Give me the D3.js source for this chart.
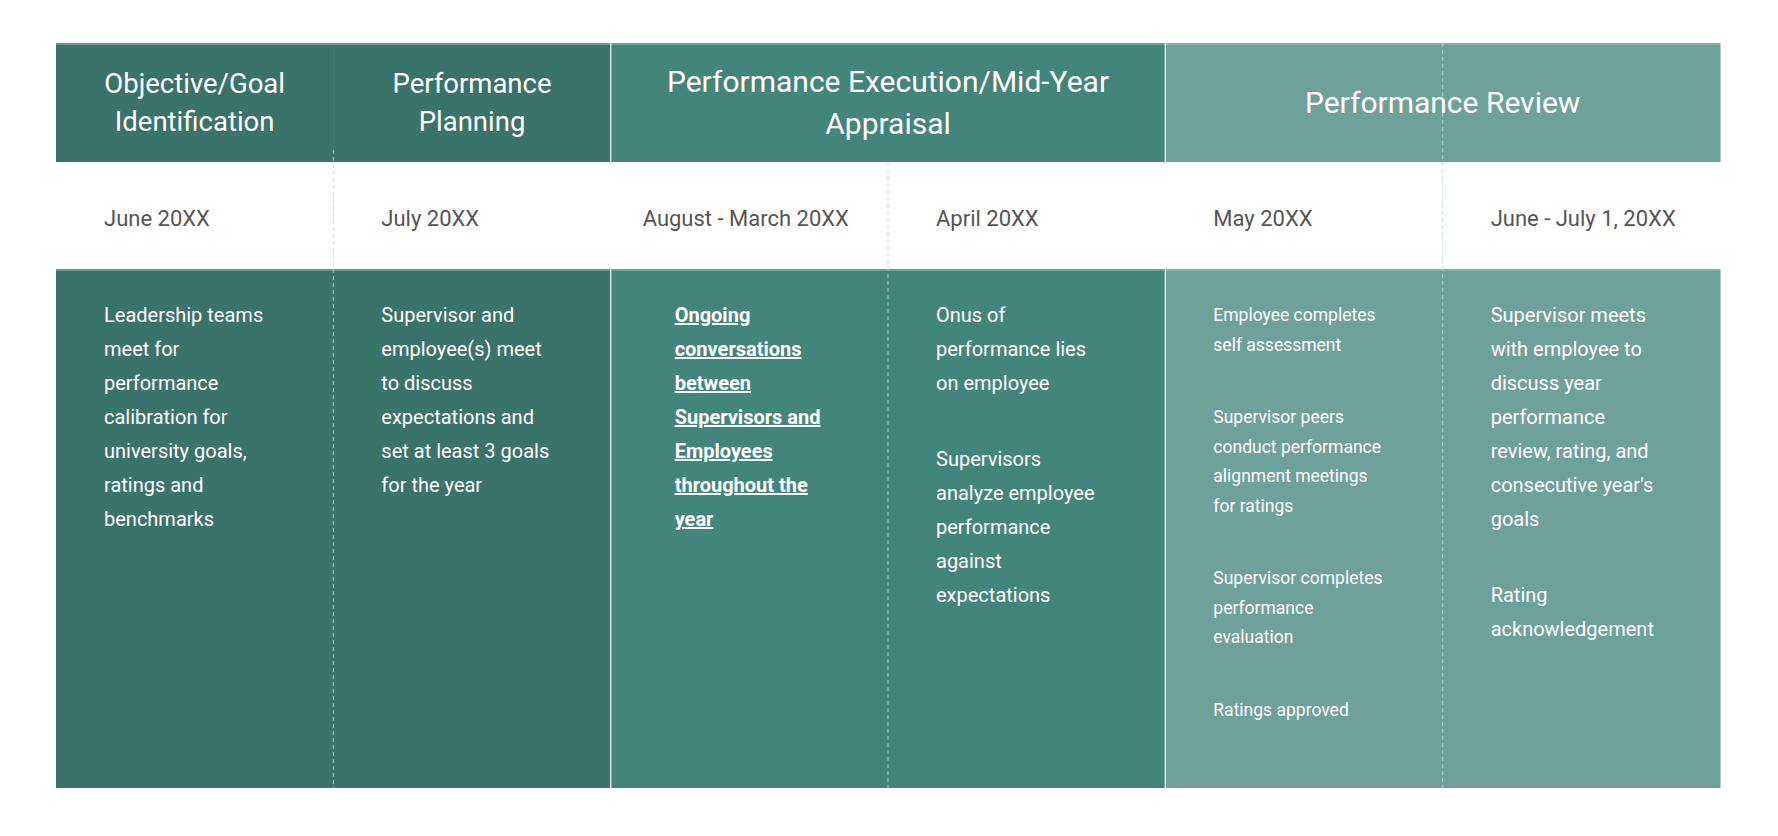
<!DOCTYPE html>
<html><head><meta charset="utf-8">
<script src="https://cdn.jsdelivr.net/npm/d3@7"></script>
<style>body{margin:0;background:#fff}svg{display:block}</style>
</head><body><svg id="c" width="1778" height="836"></svg>
<script>
const columns = ["c0","c1","c2","c3","c4","c5"];
const groups = [
  {cols:["c0"], label:["Objective/Goal","Identification"], color:"#3a7369"},
  {cols:["c1"], label:["Performance","Planning"], color:"#3a7369"},
  {cols:["c2","c3"], label:["Performance Execution/Mid-Year","Appraisal"], color:"#43857b"},
  {cols:["c4","c5"], label:["Performance Review"], color:"#6fa19b"}
];
const colColors = ["#3a7369","#3a7369","#43857b","#43857b","#6fa19b","#6fa19b"];
const dates = ["June 20XX","July 20XX","August - March 20XX","April 20XX","May 20XX","June - July 1, 20XX"];
const bodies = [
  [["Leadership teams","meet for","performance","calibration for","university goals,","ratings and","benchmarks"]],
  [["Supervisor and","employee(s) meet","to discuss","expectations and","set at least 3 goals","for the year"]],
  [["Ongoing","conversations","between","Supervisors and","Employees","throughout the","year"]],
  [["Onus of","performance lies","on employee"],["Supervisors","analyze employee","performance","against","expectations"]],
  [["Employee completes","self assessment"],["Supervisor peers","conduct performance","alignment meetings","for ratings"],["Supervisor completes","performance","evaluation"],["Ratings approved"]],
  [["Supervisor meets","with employee to","discuss year","performance","review, rating, and","consecutive year's","goals"],["Rating","acknowledgement"]]
];
const bodyStyle = [
  {fs:20,lh:34,gap:0,x:48},{fs:20,lh:34,gap:0,x:48},{fs:20,lh:34,gap:0,x:48,bold:true},
  {fs:20,lh:34,gap:42,x:48},{fs:17.5,lh:29.5,gap:43,x:48},{fs:20,lh:34,gap:42,x:48}
];
const svg = d3.select("#c");
const x = d3.scaleBand().domain(columns).range([56,1720]);
const y = d3.scaleLinear().domain([0,1]).range([0,1]);
const T=43, H=162, D=269, B=788;
const F = "Roboto, 'Noto Sans', sans-serif";
// body backgrounds
svg.selectAll("rect.b").data(columns).join("rect")
  .attr("x",d=>x(d)).attr("y",D).attr("width",x.bandwidth()+0.5).attr("height",B-D)
  .attr("fill",(d,i)=>colColors[i]);
svg.selectAll("rect.h").data(columns).join("rect")
  .attr("x",d=>x(d)).attr("y",T).attr("width",x.bandwidth()+0.5).attr("height",H-T)
  .attr("fill",(d,i)=>colColors[i]);
// top highlight line
svg.append("line").attr("x1",56).attr("x2",1720).attr("y1",T+1).attr("y2",T+1).attr("stroke","#9cc4be").attr("stroke-width",1.5).attr("opacity",0.6);
svg.append("line").attr("x1",56).attr("x2",1720).attr("y1",D+1).attr("y2",D+1).attr("stroke","#9cc4be").attr("stroke-width",1.5).attr("opacity",0.6);
// boundaries
columns.slice(1).forEach((c,i)=>{
  const xx = x(c);
  const groupEdge = (i===1||i===3);
  if(groupEdge){
    svg.append("line").attr("x1",xx).attr("x2",xx).attr("y1",T).attr("y2",B).attr("stroke","#ffffff").attr("stroke-width",1.5).attr("opacity",0.8);
  } else {
    const y0 = (i===4)? T : (i===0? 150 : H);
    svg.append("line").attr("x1",xx).attr("x2",xx).attr("y1",y0).attr("y2",B)
      .attr("stroke","#b9dcd7").attr("stroke-width",1).attr("stroke-dasharray","4,3").attr("opacity",0.8);
  }
});
// headers
groups.forEach(g=>{
  const x0=x(g.cols[0]), x1=x(g.cols[g.cols.length-1])+x.bandwidth();
  const cx=(x0+x1)/2;
  const n=g.label.length;
  const fs = g.cols.length>1?30:27.5;
  const lh = g.cols.length>1?42:38;
  const mid=(T+H)/2;
  g.label.forEach((t,k)=>{
    svg.append("text").attr("x",cx).attr("y",mid+(k-(n-1)/2)*lh).attr("dy","0.35em")
      .attr("text-anchor","middle").attr("fill","#ffffff").attr("font-family",F)
      .attr("font-size",fs).text(t);
  });
});
// dates
svg.selectAll("text.d").data(dates).join("text")
  .attr("x",(d,i)=>x(columns[i])+(i===2?32:48)).attr("y",(D+H)/2+3).attr("dy","0.35em")
  .attr("fill","#555").attr("font-family",F).attr("font-size",22).text(d=>d);
// bodies
bodies.forEach((paras,i)=>{
  const s=bodyStyle[i];
  let yy=D+46;
  const bx=x(columns[i])+(i===2?64:s.x);
  paras.forEach(p=>{
    p.forEach(line=>{
      const t=svg.append("text").attr("x",bx).attr("y",yy).attr("dy","0.35em")
        .attr("fill","#ffffff").attr("font-family",F).attr("font-size",s.fs).text(line);
      if(s.bold){t.attr("font-weight","bold").attr("text-decoration","underline");}
      yy+=s.lh;
    });
    yy+=s.gap;
  });
});
</script></body></html>
